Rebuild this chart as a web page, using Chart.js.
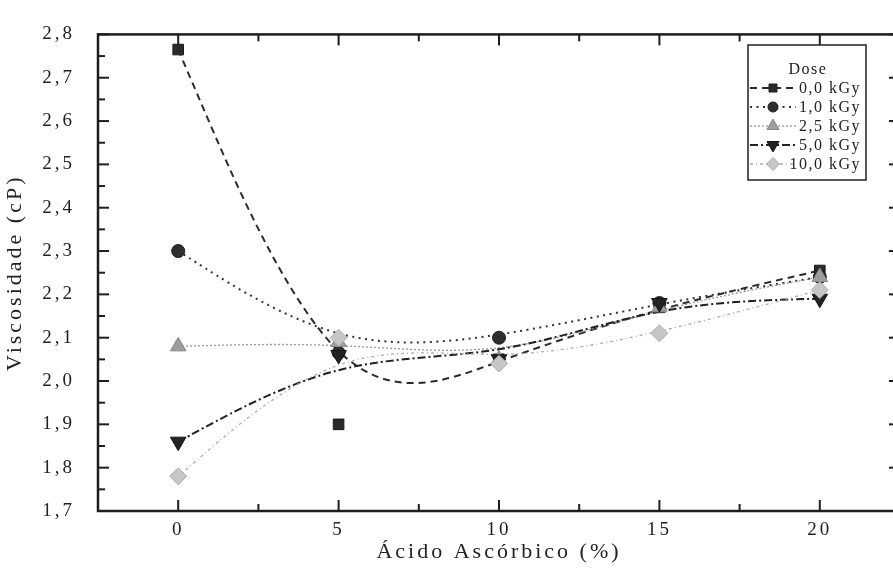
<!DOCTYPE html>
<html><head><meta charset="utf-8">
<script src="https://cdn.jsdelivr.net/npm/chart.js@4.4.1/dist/chart.umd.min.js"></script>
<style>html,body{margin:0;padding:0;overflow:hidden;background:#fff;}canvas{display:block}</style>
</head><body>
<canvas id="c" width="910" height="571"></canvas>
<script>
// ---- data ----
const acidPercent = [0, 5, 10, 15, 20];
const dose00 = [2.765, 1.90, 2.05, 2.17, 2.255];
const dose10 = [2.30, 2.065, 2.10, 2.18, 2.24];
const dose25 = [2.08, 2.09, 2.05, 2.17, 2.24];
const dose50 = [1.86, 2.06, 2.05, 2.18, 2.19];
const dose100 = [1.78, 2.10, 2.04, 2.11, 2.21];
const seriesLabels = ['0,0 kGy', '1,0 kGy', '2,5 kGy', '5,0 kGy', '10,0 kGy'];
const xTickValues = [0, 5, 10, 15, 20];
const xMinorTickValues = [2.5, 7.5, 12.5, 17.5];
const yTickValues = [1.7, 1.8, 1.9, 2.0, 2.1, 2.2, 2.3, 2.4, 2.5, 2.6, 2.7, 2.8];
const yMinorTickValues = [1.75, 1.85, 1.95, 2.05, 2.15, 2.25, 2.35, 2.45, 2.55, 2.65, 2.75];
const legendTitle = 'Dose';
const xTitle = 'Ácido Ascórbico (%)';
const yTitle = 'Viscosidade (cP)';

// ---- styles ----
const FONT = "'Liberation Serif', 'DejaVu Serif', serif";
const markerStyles = [
  {pointStyle: 'rect', radius: 7.5, rotation: 0, fill: '#2a2a2a', border: '#1a1a1a', lr: 6},
  {pointStyle: 'circle', radius: 6.5, rotation: 0, fill: '#2e2e2e', border: '#1e1e1e', lr: 5},
  {pointStyle: 'triangle', radius: 9, rotation: 0, fill: '#9d9d9d', border: '#8a8a8a', lr: 7},
  {pointStyle: 'triangle', radius: 9, rotation: 180, fill: '#232323', border: '#151515', lr: 7},
  {pointStyle: 'rectRot', radius: 8.5, rotation: 0, fill: '#c6c6c6', border: '#ababab', lr: 6.5}
];
const curveStyles = [
  {color: '#2a2a2a', width: 2, dash: [7, 5]},
  {color: '#333333', width: 2, dash: [2, 4.5]},
  {color: '#9a9a9a', width: 1.3, dash: [2, 2]},
  {color: '#222222', width: 2, dash: [8, 3, 2, 3]},
  {color: '#ababab', width: 1.3, dash: [3, 3, 1, 3]}
];
const seriesValues = [dose00, dose10, dose25, dose50, dose100];

const datasets = seriesValues.map((vals, i) => ({
  label: seriesLabels[i],
  data: acidPercent.map((xv, k) => ({x: xv, y: vals[k]})),
  showLine: false,
  pointStyle: markerStyles[i].pointStyle,
  pointRadius: markerStyles[i].radius,
  pointRotation: markerStyles[i].rotation,
  pointBackgroundColor: markerStyles[i].fill,
  pointBorderColor: markerStyles[i].border,
  pointBorderWidth: 1,
  order: 5 - i
}));

function setSpacing(chart) { chart.ctx.letterSpacing = '3px'; }

function drawMarker(ctx, st, x, y, r) {
  ctx.beginPath();
  if (st.pointStyle === 'rect') {
    const s = r;
    ctx.rect(x - s / 2 - 1, y - s / 2 - 1, s + 2, s + 2);
  } else if (st.pointStyle === 'circle') {
    ctx.arc(x, y, r, 0, Math.PI * 2);
  } else if (st.pointStyle === 'triangle') {
    const d = st.rotation ? -1 : 1;
    ctx.moveTo(x, y - d * r);
    ctx.lineTo(x + r * 0.866, y + d * r * 0.5);
    ctx.lineTo(x - r * 0.866, y + d * r * 0.5);
    ctx.closePath();
  } else {
    ctx.moveTo(x, y - r); ctx.lineTo(x + r, y); ctx.lineTo(x, y + r); ctx.lineTo(x - r, y); ctx.closePath();
  }
  ctx.fillStyle = st.fill; ctx.strokeStyle = st.border; ctx.lineWidth = 1; ctx.setLineDash([]);
  ctx.fill(); ctx.stroke();
}

const customPlugin = {
  id: 'custom',
  beforeUpdate: setSpacing,
  beforeLayout: setSpacing,
  beforeDraw: setSpacing,
  beforeDatasetsDraw(chart) {
    const {ctx, chartArea: a, scales: {x, y}} = chart;
    ctx.save();
    ctx.beginPath(); ctx.rect(a.left, a.top, a.right - a.left, a.bottom - a.top); ctx.clip();
    chart.data.datasets.forEach((ds, i) => {
      const st = curveStyles[i];
      const P = ds.data.map(p => ({x: x.getPixelForValue(p.x), y: y.getPixelForValue(p.y)}));
      const C = [P[0], P[0], ...P, P[P.length - 1], P[P.length - 1]];
      ctx.beginPath();
      for (let k = 0; k + 3 < C.length; k++) {
        const q0 = C[k], q1 = C[k + 1], q2 = C[k + 2], q3 = C[k + 3];
        if (k === 0) ctx.moveTo((q0.x + 4 * q1.x + q2.x) / 6, (q0.y + 4 * q1.y + q2.y) / 6);
        ctx.bezierCurveTo((2 * q1.x + q2.x) / 3, (2 * q1.y + q2.y) / 3,
          (q1.x + 2 * q2.x) / 3, (q1.y + 2 * q2.y) / 3,
          (q1.x + 4 * q2.x + q3.x) / 6, (q1.y + 4 * q2.y + q3.y) / 6);
      }
      ctx.setLineDash(st.dash); ctx.lineWidth = st.width; ctx.strokeStyle = st.color;
      ctx.stroke();
    });
    ctx.restore();
  },
  afterDatasetsDraw(chart) {
    const {ctx, chartArea: a, scales: {x, y}} = chart;
    ctx.save();
    ctx.setLineDash([]);
    ctx.strokeStyle = '#1e1e1e';
    ctx.lineWidth = 2;
    const tk = (px1, py1, px2, py2) => { ctx.beginPath(); ctx.moveTo(px1, py1); ctx.lineTo(px2, py2); ctx.stroke(); };
    xTickValues.forEach(v => { const p = x.getPixelForValue(v); tk(p, a.bottom, p, a.bottom - 11); tk(p, a.top, p, a.top + 11); });
    xMinorTickValues.forEach(v => { const p = x.getPixelForValue(v); tk(p, a.bottom, p, a.bottom - 7); tk(p, a.top, p, a.top + 7); });
    yTickValues.forEach(v => { const p = y.getPixelForValue(v); tk(a.left, p, a.left + 11, p); tk(a.right, p, a.right - 11, p); });
    yMinorTickValues.forEach(v => { const p = y.getPixelForValue(v); tk(a.left, p, a.left + 7, p); tk(a.right, p, a.right - 7, p); });
    ctx.lineWidth = 2.5;
    ctx.strokeRect(a.left, a.top, a.right - a.left, a.bottom - a.top);
    ctx.restore();
  },
  afterDraw(chart) {
    const ctx = chart.ctx;
    ctx.save();
    const L = 748, T = 45, R = 866, B = 180;
    ctx.fillStyle = '#fff';
    ctx.fillRect(L, T, R - L, B - T);
    ctx.strokeStyle = '#222'; ctx.lineWidth = 1.5; ctx.setLineDash([]);
    ctx.strokeRect(L, T, R - L, B - T);
    ctx.letterSpacing = '1.5px';
    ctx.font = '16px ' + FONT;
    ctx.fillStyle = '#222';
    ctx.textBaseline = 'middle';
    ctx.textAlign = 'center';
    ctx.fillText(legendTitle, 808, 70);
    ctx.textAlign = 'right';
    seriesLabels.forEach((lab, i) => {
      const yy = 88 + i * 19;
      const st = curveStyles[i];
      ctx.beginPath(); ctx.moveTo(750, yy); ctx.lineTo(796, yy);
      ctx.setLineDash(st.dash); ctx.lineWidth = st.width; ctx.strokeStyle = st.color; ctx.stroke();
      drawMarker(ctx, markerStyles[i], 773, yy, markerStyles[i].lr);
      ctx.fillStyle = '#222';
      ctx.fillText(lab, 861, yy + 1);
    });
    ctx.restore();
  }
};

new Chart(document.getElementById('c'), {
  type: 'scatter',
  data: {datasets},
  options: {
    responsive: false,
    animation: false,
    devicePixelRatio: 1,
    layout: {padding: {left: 0, top: 17, right: 10, bottom: 0}},
    plugins: {legend: {display: false}, tooltip: {enabled: false}},
    scales: {
      x: {
        type: 'linear', min: -2.5, max: 22.5,
        grid: {display: false, drawTicks: false},
        border: {display: false},
        afterBuildTicks: s => { s.ticks = xTickValues.map(v => ({value: v})); },
        afterFit: s => { s.height = 60; },
        ticks: {autoSkip: false, maxRotation: 0, padding: 8, color: '#222',
          font: {family: FONT, size: 19}, callback: v => String(v)},
        title: {display: true, text: xTitle, color: '#222',
          font: {family: FONT, size: 22}, padding: {top: 0, bottom: 6}}
      },
      y: {
        type: 'linear', min: 1.7, max: 2.8,
        grid: {display: false, drawTicks: false},
        border: {display: false},
        afterBuildTicks: s => { s.ticks = yTickValues.map(v => ({value: v})); },
        afterFit: s => { s.width = 98; },
        ticks: {autoSkip: false, padding: 23, color: '#222',
          font: {family: FONT, size: 19}, callback: v => v.toFixed(1).replace('.', ',')},
        title: {display: true, text: yTitle, color: '#222',
          font: {family: FONT, size: 22}, padding: {top: 2, bottom: 0}}
      }
    }
  },
  plugins: [customPlugin]
});
</script>
</body></html>
